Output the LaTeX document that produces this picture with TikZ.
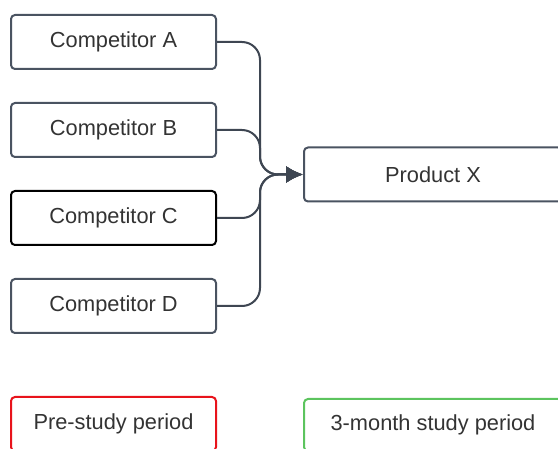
\documentclass[tikz,border=0pt]{standalone}
\usepackage{fontspec}
\setmainfont{Liberation Sans}
\usepackage{xcolor}
\usepackage{tikz}
\usetikzlibrary{arrows.meta}
\definecolor{boxgray}{HTML}{4A5361}
\definecolor{linegray}{HTML}{3E4652}
\definecolor{txtgray}{HTML}{333333}
\definecolor{prered}{HTML}{E8131B}
\definecolor{studygreen}{HTML}{5CC45E}
\tikzset{
    compbox/.style={draw=boxgray,line width=1pt,rounded corners=2pt,minimum width=102.5pt,minimum height=27pt,text=txtgray,font=\fontsize{10.9}{13}\selectfont},
    widebox/.style={compbox,minimum width=129pt},
    feed/.style={draw=linegray,line width=1pt,rounded corners=9pt,-{Latex[length=8.5pt,width=8.5pt]}}
}
\begin{document}
\begin{tikzpicture}[x=0.5pt,y=-0.5pt]
                \useasboundingbox (0,0) rectangle (558,449);
                \node[compbox] (compA) at (113.5,42) {Competitor A};
                \node[compbox] (compB) at (113.5,130) {Competitor B};
                \node[compbox,draw=black] (compC) at (113.5,218) {Competitor C};
                \node[compbox] (compD) at (113.5,306) {Competitor D};
                \node[widebox] (prodX) at (433,174.5) {Product X};

                \node[compbox,draw=prered] (pre) at (113.5,424) {Pre-study period};
                \node[widebox,draw=studygreen,minimum height=26pt] (study) at (433,425) {3-month study period};

                \draw[feed] (compA.east) -| (260,174.5) -- (prodX.west);
                \draw[feed] (compB.east) -| (260,174.5) -- (prodX.west);
                \draw[feed] (compC.east) -| (260,174.5) -- (prodX.west);
                \draw[feed] (compD.east) -| (260,174.5) -- (prodX.west);
            \end{tikzpicture}
\end{document}
